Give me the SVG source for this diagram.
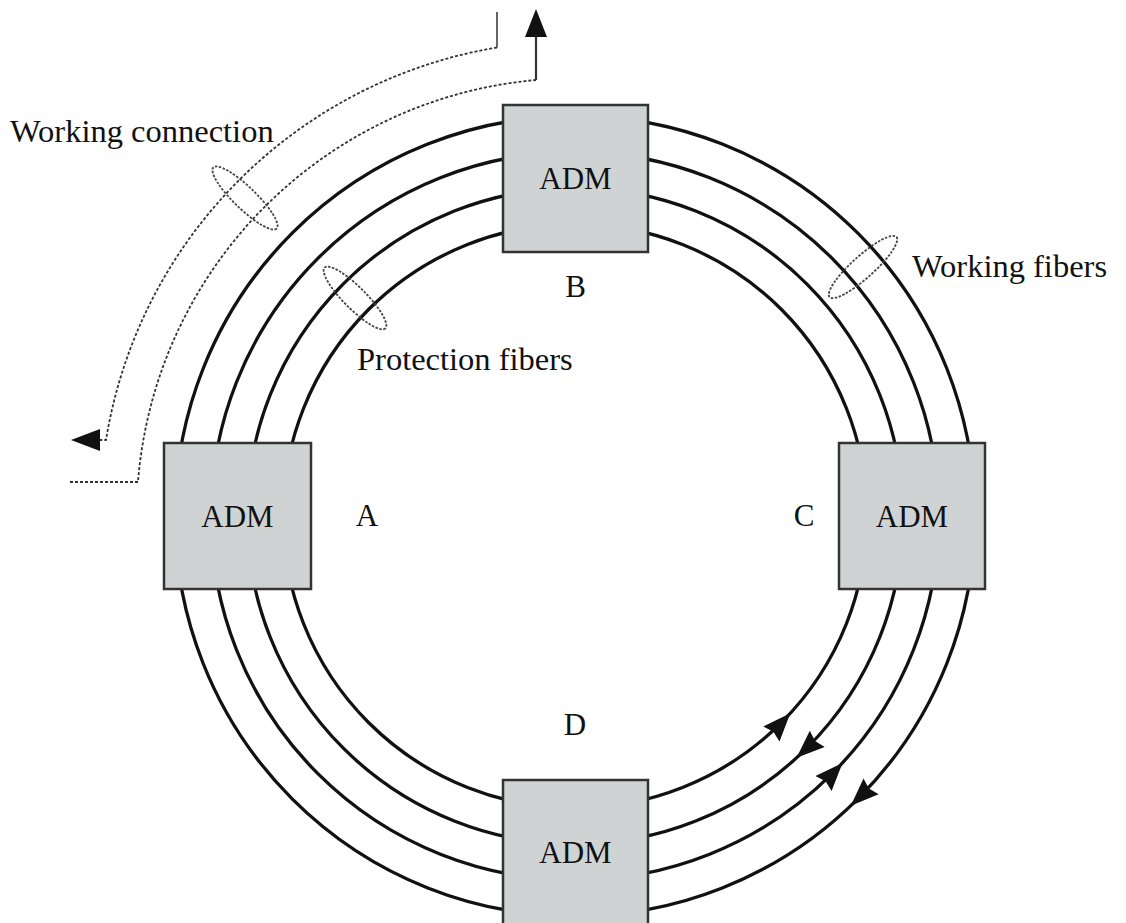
<svg xmlns="http://www.w3.org/2000/svg" width="1126" height="923" viewBox="0 0 1126 923">
<style>
text{font-family:"Liberation Serif","Times New Roman",serif;font-size:31px;fill:#111}
.lbl{font-size:32.5px}
.mid{text-anchor:middle}
.fiber{fill:none;stroke:#111;stroke-width:3.3}
.box{fill:#cfd3d4;stroke:#333;stroke-width:2.5}
.dash{fill:none;stroke:#333;stroke-width:1.8;stroke-dasharray:3 2}
.solid{fill:none;stroke:#333;stroke-width:2.2}
.ell{fill:none;stroke:#444;stroke-width:1.8;stroke-dasharray:2.5 1.5}
.head{fill:#111}
</style>
<defs>
<path id="ah" d="M0,0 L-28,-11 L-25,0 L-28,11 Z"/>
</defs>
<rect width="1126" height="923" fill="#fff"/>
<g id="connectors">
<circle class="fiber" cx="575" cy="516" r="400"/>
<circle class="fiber" cx="575" cy="516" r="364"/>
<circle class="fiber" cx="575" cy="516" r="328"/>
<circle class="fiber" cx="575" cy="516" r="292"/>
<use href="#ah" class="head" transform="translate(790.3,713.3) rotate(-47.5)"/>
<use href="#ah" class="head" transform="translate(796.6,757.8) rotate(137.5)"/>
<use href="#ah" class="head" transform="translate(842.5,762.9) rotate(-47.3)"/>
<use href="#ah" class="head" transform="translate(850.8,805.7) rotate(136.4)"/>
<path class="solid" d="M497,12 L497,47.5" style="stroke-width:1.8;stroke:#555"/>
<path class="dash" d="M497,47.5 A475,475 0 0 0 106,440 L100,440"/>
<path class="head" d="M71,440 L100,429 L100,451 Z"/>
<path class="dash" d="M70,482 L138,482 A438,438 0 0 1 536,80"/>
<path class="solid" d="M536,80 L536,36"/>
<path class="head" d="M536,9 L525,37 L547,37 Z"/>
<ellipse class="ell" cx="245" cy="198" rx="44" ry="11" transform="rotate(44 245 198)"/>
<ellipse class="ell" cx="355" cy="298" rx="43" ry="11" transform="rotate(45 355 298)"/>
<ellipse class="ell" cx="863" cy="267" rx="45" ry="11" transform="rotate(-42 863 267)"/>
</g>
<g id="nodeB">
<rect class="box" x="503" y="105" width="145" height="147"/>
<text class="mid" x="575.5" y="189">ADM</text>
<text class="mid" x="575.5" y="297">B</text>
</g>
<g id="nodeA">
<rect class="box" x="164" y="443" width="147" height="146"/>
<text class="mid" x="237.5" y="527">ADM</text>
<text class="mid" x="367" y="526">A</text>
</g>
<g id="nodeC">
<rect class="box" x="839" y="443" width="146" height="146"/>
<text class="mid" x="912" y="527">ADM</text>
<text class="mid" x="804" y="526">C</text>
</g>
<g id="nodeD">
<rect class="box" x="503" y="780" width="145" height="148"/>
<text class="mid" x="575.5" y="863">ADM</text>
<text class="mid" x="575" y="735">D</text>
</g>
<g id="labels">
<text class="lbl" x="10" y="142">Working connection</text>
<text class="lbl" x="357" y="370">Protection fibers</text>
<text class="lbl" x="912" y="277">Working fibers</text>
</g>
</svg>
